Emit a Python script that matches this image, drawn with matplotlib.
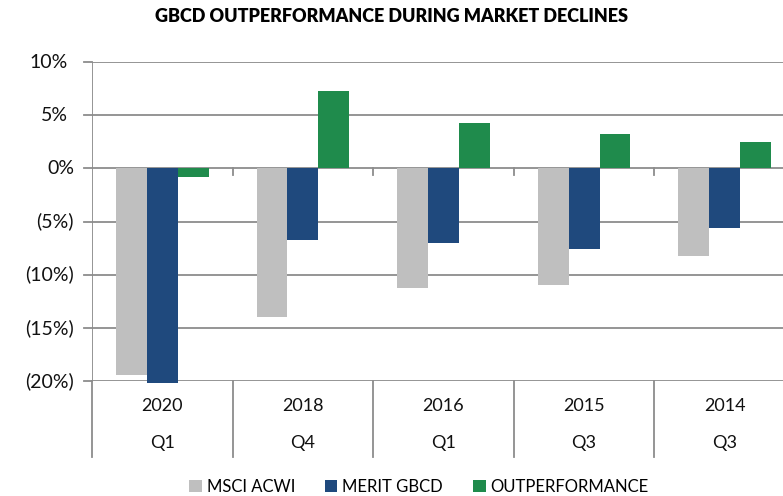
import numpy as np
import matplotlib.pyplot as plt

plt.rcParams['font.family'] = ['Lato', 'DejaVu Sans']

years = ["2020", "2018", "2016", "2015", "2014"]
quarters = ["Q1", "Q4", "Q1", "Q3", "Q3"]
msci_acwi = [-19.4, -14.0, -11.3, -11.0, -8.2]
merit_gbcd = [-20.2, -6.7, -7.0, -7.6, -5.65]
outperformance = [-0.8, 7.25, 4.3, 3.25, 2.45]

yticks = [10, 5, 0, -5, -10, -15, -20]

colors = ["#BFBFBF", "#1F497D", "#1F8B4C"]
grid_col = "#8C8C8C"

fig = plt.figure(figsize=(7.83, 4.96), dpi=100)
ax = fig.add_axes([92 / 783, 1 - 381 / 496, 1 - 92 / 783, (381 - 62) / 496])

x = np.arange(len(years)) + 0.5
w = 0.22
series = [("MSCI ACWI", msci_acwi), ("MERIT GBCD", merit_gbcd), ("OUTPERFORMANCE", outperformance)]
for i, (name, vals) in enumerate(series):
    ax.bar(x + (i - 1) * w, vals, width=w, color=colors[i], label=name, zorder=3, clip_on=False)

ax.set_ylim(-20, 10)
ax.set_xlim(0, (783 - 92) / 140.6)
for v in yticks:
    ax.axhline(v, color=grid_col, lw=1.3, zorder=1)
ax.axvline(0, color=grid_col, lw=1.3, zorder=2)
for s in ax.spines.values():
    s.set_visible(False)
ax.set_xticks([])
ax.set_yticks([])

# y tick marks and labels, positives padded like Excel's "0%_)" format
ytr = ax.get_yaxis_transform()
for v in yticks:
    ax.plot([-0.011, 0], [v, v], color=grid_col, lw=1.3, transform=ytr, clip_on=False)
    lab = f"{v}%" if v >= 0 else f"({-v}%)"
    xoff = -0.035 if v > 0 else -0.026
    ax.text(xoff, v, lab, transform=ytr, ha="right", va="center", fontsize=14, color="#111111")

# two-level category axis
xtr = ax.get_xaxis_transform()
for b in range(len(years) + 1):
    ax.plot([b, b], [0, -0.238], color=grid_col, lw=1.3, transform=xtr, clip_on=False)
    if 0 < b:
        ax.plot([b, b], [0, -0.6], color=grid_col, lw=1.3, clip_on=True, zorder=2)
for i in range(len(years)):
    ax.text(x[i], -0.078, years[i], transform=xtr, ha="center", va="center", fontsize=13, color="#111111")
    ax.text(x[i], -0.195, quarters[i], transform=xtr, ha="center", va="center", fontsize=13, color="#111111")

fig.text(0.5, 1 - 17 / 496, "GBCD OUTPERFORMANCE DURING MARKET DECLINES", ha="center", va="center",
         fontsize=13, fontweight="heavy")

fig.legend(loc="center", bbox_to_anchor=(0.535, 1 - 487 / 496), ncol=3, frameon=False, fontsize=12,
           handlelength=0.75, handleheight=0.75, handletextpad=0.3, columnspacing=1.8)

fig.savefig("out.png", dpi=100)
